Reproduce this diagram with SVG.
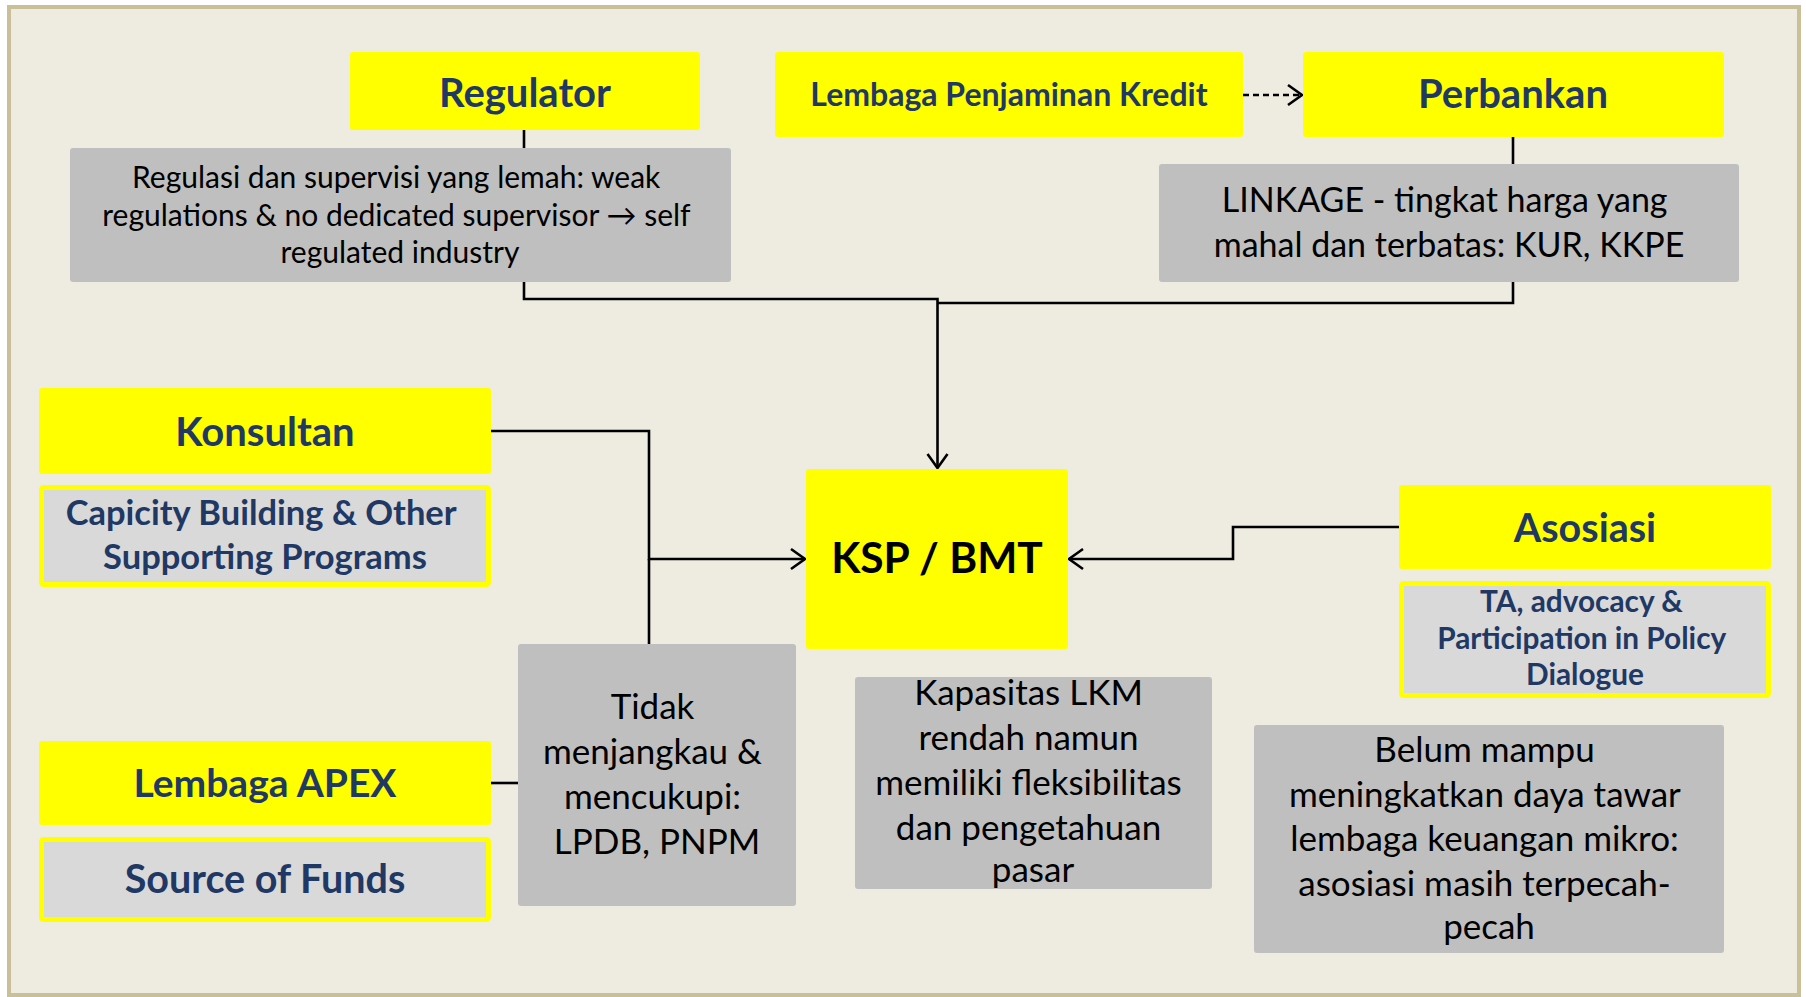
<svg xmlns="http://www.w3.org/2000/svg" width="1806" height="997" viewBox="0 0 1806 997">
  <defs>
    <marker id="chev" markerUnits="userSpaceOnUse" markerWidth="20" markerHeight="24" viewBox="0 0 20 24" refX="17" refY="12" orient="auto">
      <path d="M3,2 L17,12 L3,22" fill="none" stroke="#000" stroke-width="2.6"/>
    </marker>
  </defs>
  <style>
    .frame { fill: #EEECE1; stroke: #C9C09A; stroke-width: 4; }
    .head { fill: #FFFF00; }
    .sub { fill: #D9D9D9; stroke: #FFFF00; stroke-width: 5; }
    .note { fill: #BFBFBF; }
    .conn { fill: none; stroke: #000; stroke-width: 2.6; }
    .t { font-family: Lato, "Liberation Sans", sans-serif; text-anchor: middle; }
    .navy { fill: #1F3864; font-weight: bold; }
    .blk { fill: #000; }
  </style>

  <rect class="frame" x="9" y="7" width="1790" height="988"/>

  <!-- connectors -->
  <g id="connectors">
    <line class="conn" x1="524" y1="130" x2="524" y2="148"/>
    <line class="conn" x1="1513" y1="137" x2="1513" y2="164"/>
    <path class="conn" d="M524,282 V299 H937.5 V468" marker-end="url(#chev)"/>
    <path class="conn" d="M1513,282 V303 H937.5"/>
    <line class="conn" x1="1243" y1="95" x2="1302" y2="95" stroke-dasharray="6 4" marker-end="url(#chev)"/>
    <path class="conn" d="M491,431 H649 V559 H805" marker-end="url(#chev)"/>
    <line class="conn" x1="649" y1="559" x2="649" y2="644"/>
    <line class="conn" x1="491" y1="783" x2="518" y2="783"/>
    <path class="conn" d="M1399,527 H1233 V559 H1069" marker-end="url(#chev)"/>
  </g>

  <g id="regulator">
    <rect class="head" x="350" y="52" width="350" height="78" rx="3"/>
    <text class="t navy" x="525" y="107" font-size="40">Regulator</text>
  </g>

  <g id="regulasi-note">
    <rect class="note" x="70" y="148" width="661" height="134" rx="3"/>
    <text class="t blk" font-size="30">
      <tspan x="400" y="188">Regulasi dan supervisi yang lemah: weak</tspan>
      <tspan x="400" y="225.5">regulations &amp; no dedicated supervisor → self</tspan>
      <tspan x="400" y="263">regulated industry</tspan>
    </text>
  </g>

  <g id="lembaga-penjaminan">
    <rect class="head" x="775" y="52" width="468" height="85" rx="3"/>
    <text class="t navy" x="1009" y="106" font-size="32">Lembaga Penjaminan Kredit</text>
  </g>

  <g id="perbankan">
    <rect class="head" x="1303" y="52" width="421" height="85" rx="3"/>
    <text class="t navy" x="1513" y="108" font-size="40">Perbankan</text>
  </g>

  <g id="linkage-note">
    <rect class="note" x="1159" y="164" width="580" height="118" rx="3"/>
    <text class="t blk" font-size="34">
      <tspan x="1449" y="212">LINKAGE - tingkat harga yang</tspan>
      <tspan x="1449" y="257">mahal dan terbatas: KUR, KKPE</tspan>
    </text>
  </g>

  <g id="konsultan">
    <rect class="head" x="39" y="388" width="452" height="86" rx="3"/>
    <text class="t navy" x="265" y="446" font-size="40">Konsultan</text>
  </g>

  <g id="capacity-building">
    <rect class="sub" x="41.5" y="487.5" width="447" height="97" rx="2"/>
    <text class="t navy" font-size="34.5">
      <tspan x="265" y="525">Capicity Building &amp; Other</tspan>
      <tspan x="265" y="569">Supporting Programs</tspan>
    </text>
  </g>

  <g id="ksp-bmt">
    <rect class="head" x="806" y="469" width="262" height="180" rx="3"/>
    <text class="t blk" x="937" y="573" font-size="42.5" font-weight="bold">KSP / BMT</text>
  </g>

  <g id="asosiasi">
    <rect class="head" x="1399" y="485" width="372" height="84" rx="3"/>
    <text class="t navy" x="1585" y="542" font-size="39.5">Asosiasi</text>
  </g>

  <g id="ta-advocacy">
    <rect class="sub" x="1401.5" y="583.5" width="367" height="112" rx="2"/>
    <text class="t navy" font-size="29.8">
      <tspan x="1585" y="612">TA, advocacy &amp;</tspan>
      <tspan x="1585" y="649">Participation in Policy</tspan>
      <tspan x="1585" y="685">Dialogue</tspan>
    </text>
  </g>

  <g id="lembaga-apex">
    <rect class="head" x="39" y="741" width="452" height="84" rx="3"/>
    <text class="t navy" x="265" y="797" font-size="39">Lembaga APEX</text>
  </g>

  <g id="source-of-funds">
    <rect class="sub" x="41.5" y="839.5" width="447" height="80" rx="2"/>
    <text class="t navy" x="265" y="893" font-size="39.5">Source of Funds</text>
  </g>

  <g id="tidak-note">
    <rect class="note" x="518" y="644" width="278" height="262" rx="3"/>
    <text class="t blk" font-size="35">
      <tspan x="657" y="719">Tidak</tspan>
      <tspan x="657" y="764">menjangkau &amp;</tspan>
      <tspan x="657" y="809">mencukupi:</tspan>
      <tspan x="657" y="854">LPDB, PNPM</tspan>
    </text>
  </g>

  <g id="kapasitas-note">
    <rect class="note" x="855" y="677" width="357" height="212" rx="3"/>
    <text class="t blk" font-size="35">
      <tspan x="1033" y="705">Kapasitas LKM</tspan>
      <tspan x="1033" y="750">rendah namun</tspan>
      <tspan x="1033" y="795">memiliki fleksibilitas</tspan>
      <tspan x="1033" y="840">dan pengetahuan</tspan>
      <tspan x="1033" y="882">pasar</tspan>
    </text>
  </g>

  <g id="belum-note">
    <rect class="note" x="1254" y="725" width="470" height="228" rx="3"/>
    <text class="t blk" font-size="35">
      <tspan x="1489" y="762">Belum mampu</tspan>
      <tspan x="1489" y="807">meningkatkan daya tawar</tspan>
      <tspan x="1489" y="851">lembaga keuangan mikro:</tspan>
      <tspan x="1489" y="896">asosiasi masih terpecah-</tspan>
      <tspan x="1489" y="939">pecah</tspan>
    </text>
  </g>
</svg>
